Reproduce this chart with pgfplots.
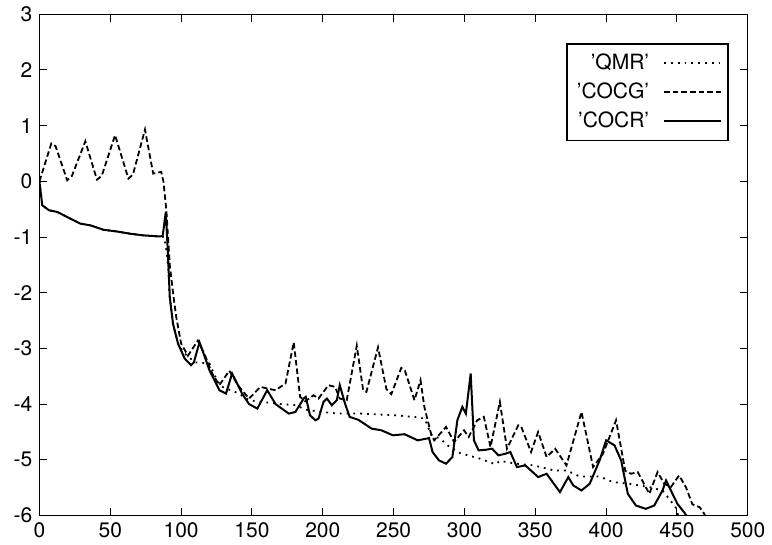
\documentclass[border=0pt]{standalone}
\usepackage{fontspec}
\setmainfont{TeX Gyre Heros}
\usepackage{pgfplots}
\pgfplotsset{compat=1.18}

\begin{document}
\begin{tikzpicture}
\begin{axis}[
  scale only axis,
  width=354pt, height=250.5pt,
  xmin=0, xmax=500, ymin=-6, ymax=3,
  xtick={0,50,...,500}, ytick={-6,-5,...,3},
  tick align=inside,
  major tick length=4pt,
  axis line style={line width=0.6pt},
  every tick/.style={line width=0.5pt, black},
  /pgf/number format/assume math mode=true,
  tick label style={font=\fontsize{10.5}{12}\selectfont},
  legend plot pos=right,
  legend cell align=right,
  legend style={at={(0.973,0.942)}, anchor=north east, draw=black, line width=0.6pt,
    font=\fontsize{10.5}{12}\selectfont, row sep=1.2pt, inner xsep=3pt, inner ysep=3pt,
    /tikz/every odd column/.append style={column sep=5pt}},
  legend image code/.code={\draw[#1] (0cm,0cm) -- (1.0cm,0cm);},
]
\addplot[black, line width=0.9pt, dash pattern=on 0.9pt off 2.5pt] coordinates {
(0,0)(2,-0.43)(6.8,-0.52)(12.6,-0.55)(19.6,-0.64)(29,-0.76)(36,-0.79)(45.3,-0.87)(54.6,-0.9)(64,-0.94)(73.3,-0.97)(85,-0.99)(88,-1.0)(90,-1.3)(91,-1.6)(92,-2.08)(94.3,-2.56)(97.8,-2.91)(101,-3.05)(105,-3.15)(110,-3.25)(120,-3.27)(124,-3.5)(128,-3.68)(135,-3.75)(140,-3.8)(148,-3.93)(157,-3.96)(171,-4.0)(181,-4.02)(188,-4.1)(199,-4.14)(211,-4.17)(227,-4.17)(250.7,-4.2)(264.7,-4.23)(272,-4.26)(276.4,-4.55)(283,-4.62)(288,-4.74)(297,-4.88)(311,-4.98)(322,-5.08)(325,-5.02)(337,-5.07)(349,-5.1)(363,-5.19)(372,-5.19)(381.4,-5.3)(395.4,-5.3)(404.8,-5.4)(416.4,-5.43)(430.5,-5.49)(439.8,-5.55)(449,-5.85)(451.5,-6.05)
};
\addlegendentry{'QMR'}
\addplot[black, line width=0.9pt, dash pattern=on 2.8pt off 1.5pt] coordinates {
(0,0)(8.4,0.68)(11.4,0.63)(19.6,0.02)(23,0.1)(32.4,0.72)(40.6,0.03)(44,0.1)(53.4,0.83)(62.8,0.05)(66,0.12)(74.5,0.93)(80.3,0.14)(86,0.17)(87.5,0.0)(89.6,-0.52)(92,-1.5)(94.3,-2.0)(96.6,-2.44)(100,-2.91)(104.8,-3.13)(109.5,-2.95)(111.8,-2.86)(116.5,-3.1)(122,-3.45)(127,-3.66)(134,-3.4)(141,-3.69)(148,-3.9)(156,-3.69)(160.8,-3.72)(166.7,-3.75)(173.7,-3.63)(179.5,-2.89)(184,-3.87)(187.7,-3.95)(193.5,-3.84)(197,-3.9)(204,-3.66)(208.7,-3.69)(212,-3.9)(216.9,-3.93)(224,-2.95)(228.5,-3.75)(230.8,-3.78)(239,-2.98)(244.9,-3.73)(248.4,-3.82)(255.4,-3.35)(258,-3.4)(264.7,-3.93)(269,-3.57)(271.7,-4.05)(276.4,-4.53)(278.7,-4.65)(287,-4.41)(292.7,-4.68)(299.7,-4.47)(303,-4.59)(309,-4.29)(313.7,-4.23)(318.4,-4.77)(325,-3.96)(330,-4.8)(338,-4.38)(340,-4.4)(347,-4.86)(352,-4.5)(358,-4.95)(364,-4.8)(372,-5.1)(382.6,-4.14)(390.8,-5.13)(397.8,-4.89)(407,-4.29)(413.5,-5.2)(417.6,-5.25)(422.3,-5.22)(430.5,-5.61)(436.3,-5.22)(441,-5.43)(445.7,-5.49)(451.5,-5.28)(456.3,-5.49)(460.9,-5.8)(466,-5.85)(469,-5.96)(471,-6.05)
};
\addlegendentry{'COCG'}
\addplot[black, line width=1pt] coordinates {
(0,0)(2,-0.43)(6.8,-0.52)(12.6,-0.55)(19.6,-0.64)(29,-0.76)(36,-0.79)(45.3,-0.87)(54.6,-0.9)(64,-0.94)(73.3,-0.97)(85,-0.99)(87,-0.98)(89.2,-0.55)(90.5,-1.2)(91,-1.47)(92,-2.08)(94.3,-2.56)(97.8,-2.91)(102.5,-3.18)(107,-3.3)(109,-3.25)(113,-2.89)(116,-3.1)(120,-3.39)(127,-3.75)(131.7,-3.81)(136,-3.45)(143,-3.81)(148,-4.0)(153.8,-4.08)(160.8,-3.75)(166.7,-4.0)(176,-4.17)(180.7,-4.14)(186.5,-3.9)(188,-3.87)(191,-4.2)(194.7,-4.29)(197,-4.26)(200.5,-3.96)(202.9,-3.9)(206.4,-4.02)(209.9,-3.93)(212,-3.66)(215.7,-3.99)(219,-4.23)(225,-4.28)(234.4,-4.44)(241.4,-4.47)(249.5,-4.56)(257.7,-4.54)(267,-4.65)(275,-4.61)(277.5,-4.86)(282,-5.01)(287,-5.07)(291.5,-4.95)(295,-4.29)(298.5,-4.05)(301,-4.17)(304.4,-3.45)(306.7,-4.65)(310,-4.83)(315,-4.82)(319.5,-4.8)(324,-4.92)(329,-4.89)(332.4,-4.86)(337,-5.13)(343,-5.1)(352,-5.31)(358,-5.25)(367.4,-5.58)(373.3,-5.31)(376.8,-5.46)(382.6,-5.55)(388.4,-5.43)(395.4,-5.01)(400,-4.65)(405.9,-4.74)(410.6,-5.01)(415.3,-5.61)(421,-5.82)(428,-5.88)(434,-5.82)(439.8,-5.55)(442.3,-5.37)(445.7,-5.55)(450.3,-5.79)(455,-5.94)(458,-6.05)
};
\addlegendentry{'COCR'}
\end{axis}
\path ([xshift=-3.5pt]current bounding box.west);
\end{tikzpicture}
\end{document}
